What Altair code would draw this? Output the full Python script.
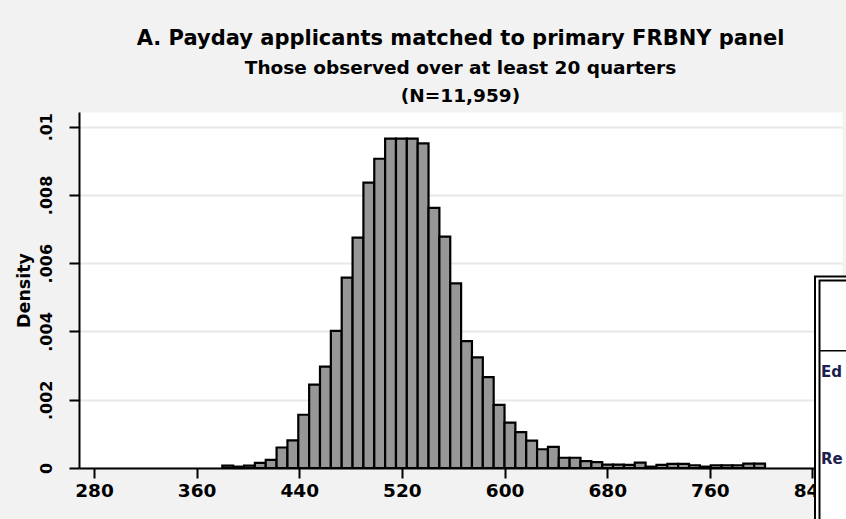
import altair as alt
import pandas as pd

# ---- data ----
BIN_START = 380.0
BIN_WIDTH = 8.46
DENSITY = [0.00007, 0.00004, 0.00007, 0.00015, 0.00024, 0.00060, 0.00081, 0.00156, 0.00244, 0.00297,
           0.00402, 0.00558, 0.00675, 0.00836, 0.00906, 0.00965, 0.00965, 0.00965, 0.00951, 0.00762,
           0.00678, 0.00541, 0.00372, 0.00324, 0.00266, 0.00185, 0.00133, 0.00105, 0.00080, 0.00055,
           0.00062, 0.00030, 0.00030, 0.00020, 0.00017, 0.00010, 0.00010, 0.00009, 0.00016, 0.00004,
           0.00009, 0.00012, 0.00012, 0.00008, 0.00004, 0.00008, 0.00008, 0.00008, 0.00013, 0.00013]
X_TICKS = [280, 360, 440, 520, 600, 680, 760, 840]
Y_TICKS = [0, 0.002, 0.004, 0.006, 0.008, 0.01]
TITLE = "A. Payday applicants matched to primary FRBNY panel"
SUBTITLE = ["Those observed over at least 20 quarters", "(N=11,959)"]
Y_TITLE = "Density"
TABLE_TEXT = ["Ed", "Re"]

df = pd.DataFrame({
    "lo": [BIN_START + i * BIN_WIDTH for i in range(len(DENSITY))],
    "density": DENSITY,
})
df["hi"] = df["lo"] + BIN_WIDTH
df["base"] = 0.0

W, H = 763, 356
FONT = "DejaVu Sans"

bars = alt.Chart(df).mark_rect(fill="#979797", stroke="black", strokeWidth=2.2).encode(
    x=alt.X("lo:Q",
            scale=alt.Scale(domain=[268.3, 863.0], nice=False, zero=False),
            axis=alt.Axis(values=X_TICKS, title=None, format="d", labelFont=FONT,
                          labelFontSize=18.5, labelFontWeight="bold", labelColor="black",
                          tickSize=10, tickWidth=2,
                          tickColor="black", domainColor="black", domainWidth=2,
                          labelPadding=3, grid=False, labelFlush=False, labelOverlap=False,
                          zindex=0)),
    x2="hi:Q",
    y=alt.Y("density:Q",
            scale=alt.Scale(domain=[0, 0.01043], nice=False),
            axis=alt.Axis(values=Y_TICKS, title=Y_TITLE, titleFont=FONT, titleFontSize=17.5,
                          titleFontWeight="bold", titleColor="black", titlePadding=5,
                          labelExpr="datum.value == 0 ? '0' : replace(format(datum.value, '.3~f'), /^0/, '')",
                          labelAngle=270, labelFont=FONT, labelFontSize=16, labelFontWeight="bold",
                          labelColor="black",
                          labelPadding=15, tickSize=10, tickWidth=2, tickColor="black",
                          domainColor="black", domainWidth=2, grid=True, gridColor="#e8e8e8",
                          gridWidth=2, labelFlush=False, labelOverlap=False, zindex=0)),
    y2="base:Q",
)

blank = alt.Data(values=[{}])
outer = alt.Chart(blank).mark_rect(fill="white", stroke="black", strokeWidth=2).encode(
    x=alt.value(736), x2=alt.value(900), y=alt.value(164.5), y2=alt.value(600))
inner = alt.Chart(blank).mark_rect(fill="white", stroke="black", strokeWidth=2).encode(
    x=alt.value(740.5), x2=alt.value(900), y=alt.value(168.5), y2=alt.value(600))
hline = alt.Chart(blank).mark_rule(stroke="black", strokeWidth=1.5).encode(
    x=alt.value(740.5), x2=alt.value(900), y=alt.value(238.7))
txt_style = dict(align="left", baseline="alphabetic", font=FONT, fontWeight="bold",
                 fontSize=15, color="#1d2150")
t1 = alt.Chart(blank).mark_text(**txt_style).encode(
    x=alt.value(742), y=alt.value(264.5), text=alt.value(TABLE_TEXT[0]))
t2 = alt.Chart(blank).mark_text(**txt_style).encode(
    x=alt.value(742), y=alt.value(352), text=alt.value(TABLE_TEXT[1]))

chart = alt.layer(bars, outer, inner, hline, t1, t2).properties(
    width=W, height=H,
    autosize=alt.AutoSizeParams(type="none"),
    padding={"left": 79, "top": 112, "right": 4, "bottom": 51},
    title=alt.TitleParams(text=TITLE, subtitle=SUBTITLE, anchor="middle", frame="group",
                          font=FONT, fontSize=21, fontWeight="bold", color="black",
                          subtitleFont=FONT, subtitleFontSize=18.5, subtitleColor="black",
                          subtitleFontWeight="bold", subtitleLineHeight=28,
                          subtitlePadding=10, offset=7),
).configure(background="#f2f2f2").configure_view(fill="white", stroke="transparent")

chart.save("out.html", embed_options={"renderer": "svg", "actions": False})
